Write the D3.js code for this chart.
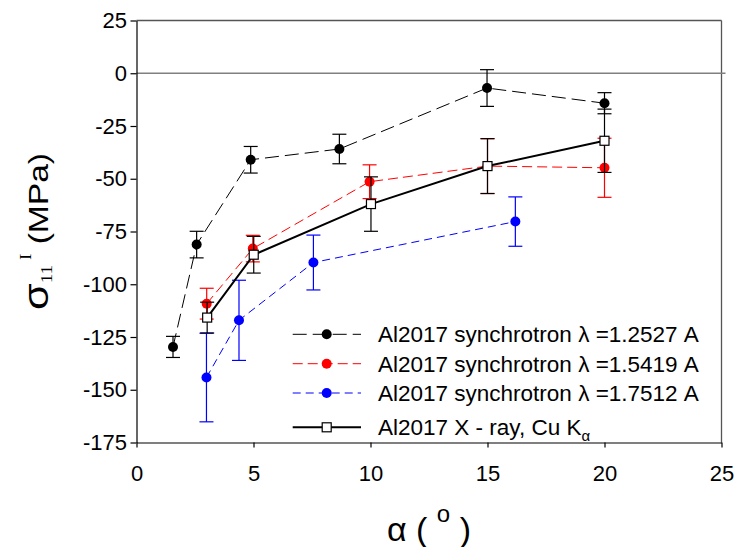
<!DOCTYPE html>
<html>
<head>
<meta charset="utf-8">
<script src="https://cdn.jsdelivr.net/npm/d3@7"></script>
<style>
  html, body { margin: 0; padding: 0; background: #fff; }
  svg { display: block; font-family: "Liberation Sans", Arial, sans-serif; }
</style>
</head>
<body>
<svg id="chart" width="735" height="547"></svg>
<script>
// ---- data ----
const xTicks = [0, 5, 10, 15, 20, 25];
const yTicks = [25, 0, -25, -50, -75, -100, -125, -150, -175];

const s1X = [1.56, 2.57, 4.88, 8.67, 14.98, 20.0];
const s1Y = [-129.7, -81.2, -41.0, -35.9, -7.0, -14.2];
const s1E = [5.0, 6.3, 6.3, 7.0, 8.7, 5.0];

const s2X = [3.0, 4.97, 9.96, 15.0, 20.0];
const s2Y = [-109.2, -83.1, -51.4, -44.0, -44.8];
const s2E = [7.3, 6.3, 8.0, 13.0, 14.0];

const s3X = [2.99, 4.38, 7.56, 16.19];
const s3Y = [-144.2, -117.1, -89.7, -70.3];
const s3E = [21.0, 19.0, 13.0, 11.7];

const s4X = [3.02, 5.01, 10.02, 15.0, 20.0];
const s4Y = [-115.8, -86.0, -62.0, -44.0, -32.0];
const s4E = [7.3, 8.7, 12.9, 13.0, 15.0];

const seriesNames = [
  ["Al2017 synchrotron ", "λ", " =1.2527 A"],
  ["Al2017 synchrotron ", "λ", " =1.5419 A"],
  ["Al2017 synchrotron ", "λ", " =1.7512 A"],
  ["Al2017 X - ray, Cu K", "α", ""]
];

// ---- layout ----
const svg = d3.select("#chart");
const x = d3.scaleLinear().domain([0, 25]).range([136.5, 721.5]);
const y = d3.scaleLinear().domain([-175, 25]).range([442.5, 20.5]);

const series = [
  {xs: s1X, ys: s1Y, es: s1E, color: "#000000", dash: "14,6", width: 1, marker: "circle"},
  {xs: s2X, ys: s2Y, es: s2E, color: "#ff0000", dash: "10,5", width: 1, marker: "circle"},
  {xs: s3X, ys: s3Y, es: s3E, color: "#0000ff", dash: "8,5", width: 1, marker: "circle"},
  {xs: s4X, ys: s4Y, es: s4E, color: "#000000", dash: null, width: 2, marker: "square"}
];

// frame (top & right)
svg.append("line").attr("x1", x(0)).attr("x2", x(25)).attr("y1", y(25)).attr("y2", y(25))
  .attr("stroke", "#555").attr("stroke-width", 1.3);
svg.append("line").attr("x1", x(25)).attr("x2", x(25)).attr("y1", y(25)).attr("y2", y(-175))
  .attr("stroke", "#555").attr("stroke-width", 1.3);

// zero line
svg.append("line").attr("x1", x(0)).attr("x2", x(25) + 4).attr("y1", y(0)).attr("y2", y(0))
  .attr("stroke", "#808080").attr("stroke-width", 1.4);

// axes
const xAxis = svg.append("g").attr("transform", `translate(0,${y(-175)})`)
  .call(d3.axisBottom(x).tickValues(xTicks).tickSize(5).tickSizeOuter(0).tickPadding(18).tickFormat(d3.format("d")));
const yAxis = svg.append("g").attr("transform", `translate(${x(0)},0)`)
  .call(d3.axisLeft(y).tickValues(yTicks).tickSize(6).tickSizeOuter(0).tickPadding(3.5).tickFormat(d3.format("d")));
[xAxis, yAxis].forEach(a => {
  a.selectAll("text").attr("font-size", 22).attr("fill", "#000")
    .attr("font-family", '"Liberation Sans", Arial, sans-serif');
  a.select(".domain").attr("stroke", "#000").attr("stroke-width", 1.2);
  a.selectAll(".tick line").attr("stroke", "#000").attr("stroke-width", 1.2);
});
yAxis.selectAll("text").text(d => d === 0 ? "0" : d3.format("d")(d).replace("−", "-"));

// series
const capW = 7;
series.forEach(s => {
  const pts = s.xs.map((v, i) => ({x: v, y: s.ys[i], e: s.es[i]}));
  const g = svg.append("g");
  const line = d3.line().x(d => x(d.x)).y(d => y(d.y));
  g.append("path").datum(pts).attr("d", line).attr("fill", "none")
    .attr("stroke", s.color).attr("stroke-width", s.width)
    .attr("stroke-dasharray", s.dash);
  const eb = g.append("g").attr("stroke", s.color).attr("stroke-width", 1.2);
  pts.forEach(d => {
    eb.append("line").attr("x1", x(d.x)).attr("x2", x(d.x)).attr("y1", y(d.y + d.e)).attr("y2", y(d.y - d.e));
    eb.append("line").attr("x1", x(d.x) - capW).attr("x2", x(d.x) + capW).attr("y1", y(d.y + d.e)).attr("y2", y(d.y + d.e));
    eb.append("line").attr("x1", x(d.x) - capW).attr("x2", x(d.x) + capW).attr("y1", y(d.y - d.e)).attr("y2", y(d.y - d.e));
  });
  if (s.marker === "circle") {
    g.selectAll("circle").data(pts).join("circle")
      .attr("cx", d => x(d.x)).attr("cy", d => y(d.y)).attr("r", 5).attr("fill", s.color);
  } else {
    g.selectAll("rect").data(pts).join("rect")
      .attr("x", d => x(d.x) - 4.5).attr("y", d => y(d.y) - 4.5).attr("width", 9).attr("height", 9)
      .attr("fill", "#fff").attr("stroke", "#000").attr("stroke-width", 1.2);
  }
});

// legend
const legY = [334.3, 363.7, 393, 427.3];
const legX1 = 292.7, legX2 = 361, legM = 326.7, legT = 378;
series.forEach((s, i) => {
  const ly = legY[i];
  svg.append("line").attr("x1", legX1).attr("x2", legX2).attr("y1", ly).attr("y2", ly)
    .attr("stroke", s.color).attr("stroke-width", s.width).attr("stroke-dasharray", s.dash);
  if (s.marker === "circle") {
    svg.append("circle").attr("cx", legM).attr("cy", ly).attr("r", 5).attr("fill", s.color);
  } else {
    svg.append("rect").attr("x", legM - 4.5).attr("y", ly - 4.5).attr("width", 9).attr("height", 9)
      .attr("fill", "#fff").attr("stroke", "#000").attr("stroke-width", 1.2);
  }
  const t = svg.append("text").attr("x", legT).attr("y", ly + 7.8).attr("font-size", 22.5).attr("fill", "#000");
  const parts = seriesNames[i];
  t.append("tspan").text(parts[0]);
  if (i < 3) {
    t.append("tspan").text(parts[1]);
    t.append("tspan").text(parts[2]);
  } else {
    t.append("tspan").attr("font-size", 15).attr("dy", 6).text(parts[1]);
  }
});

// x title
const xt = svg.append("text").attr("x", x(12.5)).attr("y", 541).attr("text-anchor", "middle")
  .attr("font-size", 34).attr("fill", "#000");
xt.append("tspan").text("α ( ");
xt.append("tspan").attr("font-size", 24).attr("dy", -19).text("o");
xt.append("tspan").attr("dy", 19).text(" )");

// y title
const yt = svg.append("text")
  .attr("transform", `translate(48,${(y(25) + y(-175)) / 2}) rotate(-90) scale(1.2,1)`)
  .attr("text-anchor", "middle").attr("font-size", 28).attr("fill", "#000");
yt.append("tspan").attr("font-size", 36).text("σ");
yt.append("tspan").attr("font-size", 16).attr("dy", 4).attr("font-family", '"Liberation Serif", serif').text("11");
yt.append("tspan").attr("font-size", 16).attr("dy", -21).attr("font-family", '"Liberation Serif", serif').text(" I");
yt.append("tspan").attr("dy", 17).text(" (MPa)");
</script>
</body>
</html>
